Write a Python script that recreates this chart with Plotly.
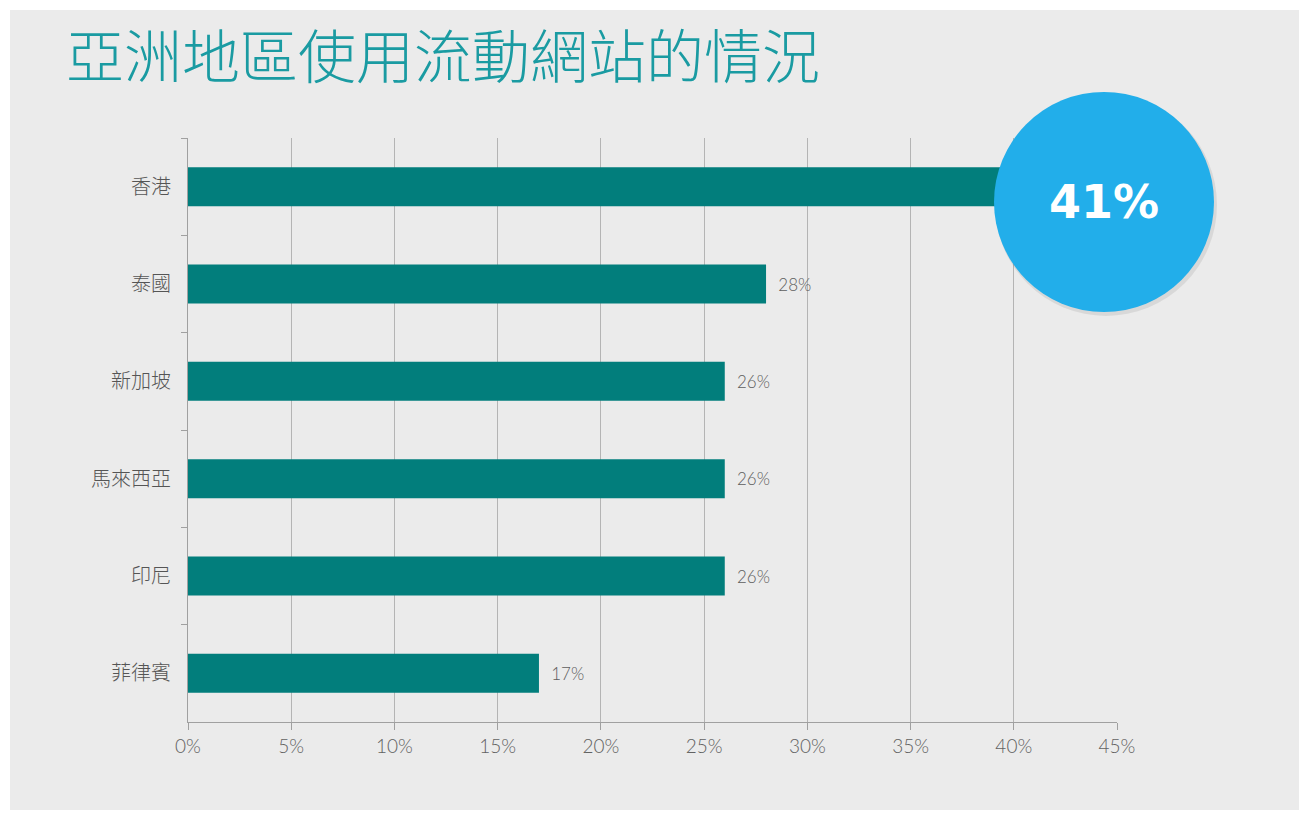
import plotly.graph_objects as go

title_text = "亞洲地區使用流動網站的情況"
countries = ["香港", "泰國", "新加坡", "馬來西亞", "印尼", "菲律賓"]
values = [41, 28, 26, 26, 26, 17]
highlight_label = "41%"
# the highlighted bar's value is shown in the circle instead of beside the bar
value_labels = ["" if i == 0 else f"{v}%" for i, v in enumerate(values)]

# page offset (browser body margin) compensation
OFF = 8
W, H = 1307 - OFF, 813 - OFF
L, R, T, B = 188 - OFF, 1307 - 1117, 138 - OFF, 813 - 722
pw, ph = W - L - R, H - T - B

def px_x(p):
    return (p - OFF - L) / pw

def px_y(p):
    return (H - B - (p - OFF)) / ph

fig = go.Figure()
fig.add_trace(go.Bar(
    x=values,
    y=countries,
    orientation="h",
    marker=dict(color="#027e7c", line=dict(width=0)),
    text=value_labels,
    texttemplate="  %{text}",
    textposition="outside",
    textfont=dict(family="Lato, 'Open Sans', sans-serif", size=17, color="#5e5e5e", weight=300),
    cliponaxis=False,
    hoverinfo="skip",
))

shapes = [
    dict(type="rect", xref="paper", yref="paper",
         x0=px_x(10), x1=px_x(1300), y0=px_y(810), y1=px_y(10),
         fillcolor="#ebebeb", line=dict(width=0), layer="below"),
    dict(type="circle", xref="paper", yref="paper",
         xsizemode="pixel", ysizemode="pixel",
         xanchor=px_x(1106), yanchor=px_y(205),
         x0=-111, x1=111, y0=-111, y1=111,
         fillcolor="rgba(0,0,0,0.08)", line=dict(width=0), layer="above"),
    dict(type="circle", xref="paper", yref="paper",
         xsizemode="pixel", ysizemode="pixel",
         xanchor=px_x(1104), yanchor=px_y(202),
         x0=-110, x1=110, y0=-110, y1=110,
         fillcolor="#22aeea", line=dict(width=0), layer="above"),
]

fig.update_layout(
    width=W, height=H,
    margin=dict(l=L, r=R, t=T, b=B, pad=0),
    paper_bgcolor="#ffffff",
    plot_bgcolor="#ebebeb",
    showlegend=False,
    bargap=0.6,
    shapes=shapes,
    annotations=[
        dict(text=title_text, xref="paper", yref="paper",
             x=px_x(64), y=px_y(53), xanchor="left", yanchor="middle",
             showarrow=False,
             font=dict(family="Noto Sans CJK TC", size=58, color="#1a9ba2", weight=300)),
        dict(text=highlight_label, xref="paper", yref="paper",
             x=px_x(1104), y=px_y(202), xanchor="center", yanchor="middle",
             showarrow=False,
             font=dict(family="DejaVu Sans", size=46, color="#ffffff", weight="bold")),
    ],
)

fig.update_xaxes(
    range=[0, 45], dtick=5, ticksuffix="%",
    showgrid=True, gridcolor="#b4b4b4", gridwidth=1,
    zeroline=False,
    showline=True, linecolor="#a0a0a0", linewidth=1,
    ticks="outside", ticklen=7, tickcolor="#a0a0a0",
    tickfont=dict(family="Lato, 'Open Sans', sans-serif", size=19, color="#626262", weight=300),
    fixedrange=True,
)
fig.update_yaxes(
    categoryorder="array", categoryarray=countries, autorange="reversed",
    showgrid=False, zeroline=False,
    showline=True, linecolor="#a0a0a0", linewidth=1,
    ticks="outside", ticklen=6, tickcolor="#a0a0a0", tickson="boundaries",
    ticklabelstandoff=12,
    tickfont=dict(family="Noto Sans CJK TC", size=20, color="#555555", weight=300),
    fixedrange=True,
)

fig.write_html("out.html")
